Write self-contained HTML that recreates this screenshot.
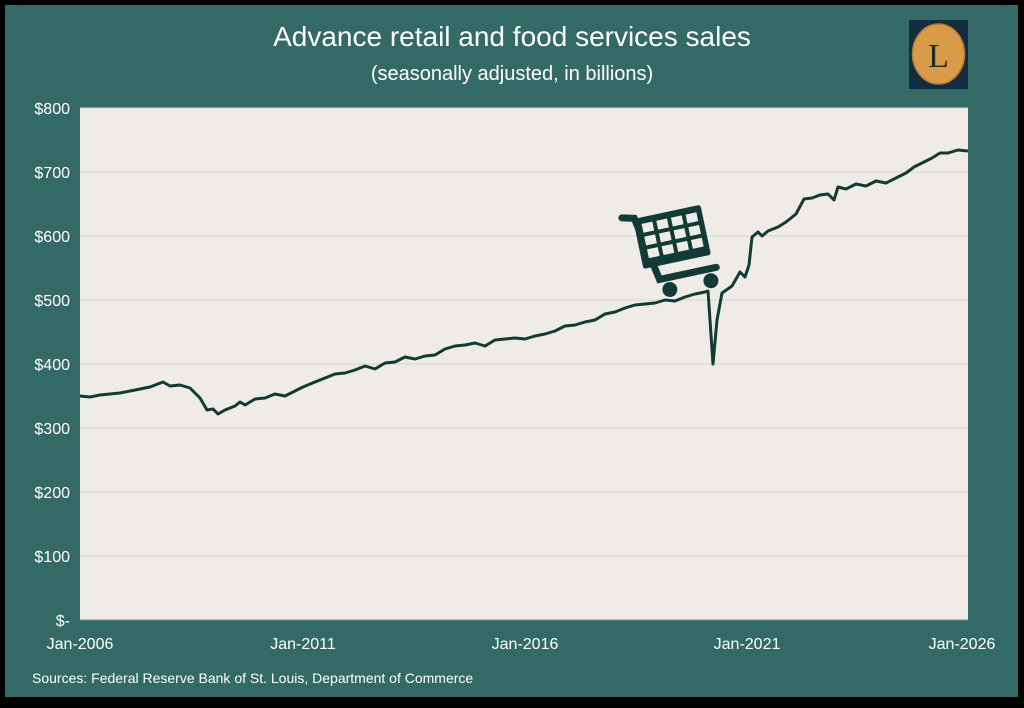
<!DOCTYPE html>
<html><head><meta charset="utf-8"><style>
html,body{margin:0;padding:0;background:#000;}
body{width:1024px;height:703px;overflow:hidden;font-family:"Liberation Sans",sans-serif;}
</style></head><body>
<svg width="1024" height="703" xmlns="http://www.w3.org/2000/svg" font-family="Liberation Sans, sans-serif">
<rect x="0" y="0" width="1024" height="703" fill="#000"/>
<rect x="5" y="5" width="1013" height="692" fill="#336a66"/>
<rect x="80" y="108" width="888" height="512" fill="#efebe6"/>
<g stroke="#d9d4ce" stroke-width="1">
<line x1="80" y1="108" x2="968" y2="108"/><line x1="80" y1="172" x2="968" y2="172"/>
<line x1="80" y1="236" x2="968" y2="236"/><line x1="80" y1="300" x2="968" y2="300"/>
<line x1="80" y1="364" x2="968" y2="364"/><line x1="80" y1="428" x2="968" y2="428"/>
<line x1="80" y1="492" x2="968" y2="492"/><line x1="80" y1="556" x2="968" y2="556"/>
</g>
<line x1="80" y1="620" x2="968" y2="620" stroke="#888" stroke-width="1"/>
<text x="512" y="46" fill="#fff" font-size="28" text-anchor="middle">Advance retail and food services sales</text>
<text x="512" y="80" fill="#fff" font-size="20" text-anchor="middle">(seasonally adjusted, in billions)</text>
<g fill="#fff" font-size="16" text-anchor="end">
<text x="70" y="114">$800</text><text x="70" y="178">$700</text><text x="70" y="242">$600</text>
<text x="70" y="306">$500</text><text x="70" y="370">$400</text><text x="70" y="434">$300</text>
<text x="70" y="498">$200</text><text x="70" y="562">$100</text><text x="70" y="626">$-</text>
</g>
<g fill="#fff" font-size="16" text-anchor="middle">
<text x="80" y="649">Jan-2006</text><text x="303" y="649">Jan-2011</text><text x="525" y="649">Jan-2016</text>
<text x="747" y="649">Jan-2021</text><text x="962" y="649">Jan-2026</text>
</g>
<text x="32" y="683" fill="#fff" font-size="14">Sources: Federal Reserve Bank of St. Louis, Department of Commerce</text>
<rect x="909" y="20" width="59" height="69" fill="#142c40"/>
<ellipse cx="938.5" cy="54" rx="26" ry="30" fill="#d99b48" stroke="#b07a30" stroke-width="1.5"/>
<text x="938.5" y="67" font-family="Liberation Serif, serif" font-size="34" fill="#1e2a2a" text-anchor="middle">L</text>
<polyline fill="none" stroke="#123b36" stroke-width="3" stroke-linejoin="round" points="
80,396 90,397 100,395 110,394 120,393 130,391 140,389 150,387 163,382 170,386 180,385 190,388 200,398 207,410 213,409 218,414 225,410 235,406 240,402 245,405 255,399 265,398 275,394 285,396 295,391 303,387 315,382 325,378 335,374 345,373 355,370 365,366 375,369 385,363 395,362 405,357 415,359 425,356 435,355 445,349 455,346 465,345 475,343 485,346 495,340 505,339 515,338 525,339 535,336 545,334 555,331 565,326 575,325 585,322 595,320 605,314 615,312 625,308 635,305 645,304 655,303 665,300 675,301 685,297 695,294 705,292 708,291 713,364 717,320 722,293 732,286 740,272 745,277 749,265 752,237 758,232 762,236 768,231 778,227 786,222 796,214 804,199 812,198 820,195 828,194 834,200 838,187 846,189 856,184 866,186 876,181 886,183 896,178 906,173 914,167 922,163 932,158 940,153 948,153 958,150 968,151"/>
<g fill="#123b36" stroke="#123b36">
<g transform="rotate(-12 672 242)">
<path d="M628 208 L640 211 L652 276 L710 276" fill="none" stroke-width="7" stroke-linecap="round"/>
<rect x="639" y="212" width="68" height="50" rx="2"/>
<g fill="#efebe6" stroke="none">
<rect x="646" y="218" width="11" height="9"/><rect x="661" y="218" width="11" height="9"/><rect x="676" y="218" width="11" height="9"/><rect x="691" y="218" width="11" height="9"/>
<rect x="646" y="231" width="11" height="9"/><rect x="661" y="231" width="11" height="9"/><rect x="676" y="231" width="11" height="9"/><rect x="691" y="231" width="11" height="9"/>
<rect x="646" y="244" width="11" height="9"/><rect x="661" y="244" width="11" height="9"/><rect x="676" y="244" width="11" height="9"/><rect x="691" y="244" width="11" height="9"/>
</g>
<circle cx="660" cy="288" r="7"/><circle cx="702" cy="288" r="7"/>
</g>
</g>
</svg>
</body></html>
